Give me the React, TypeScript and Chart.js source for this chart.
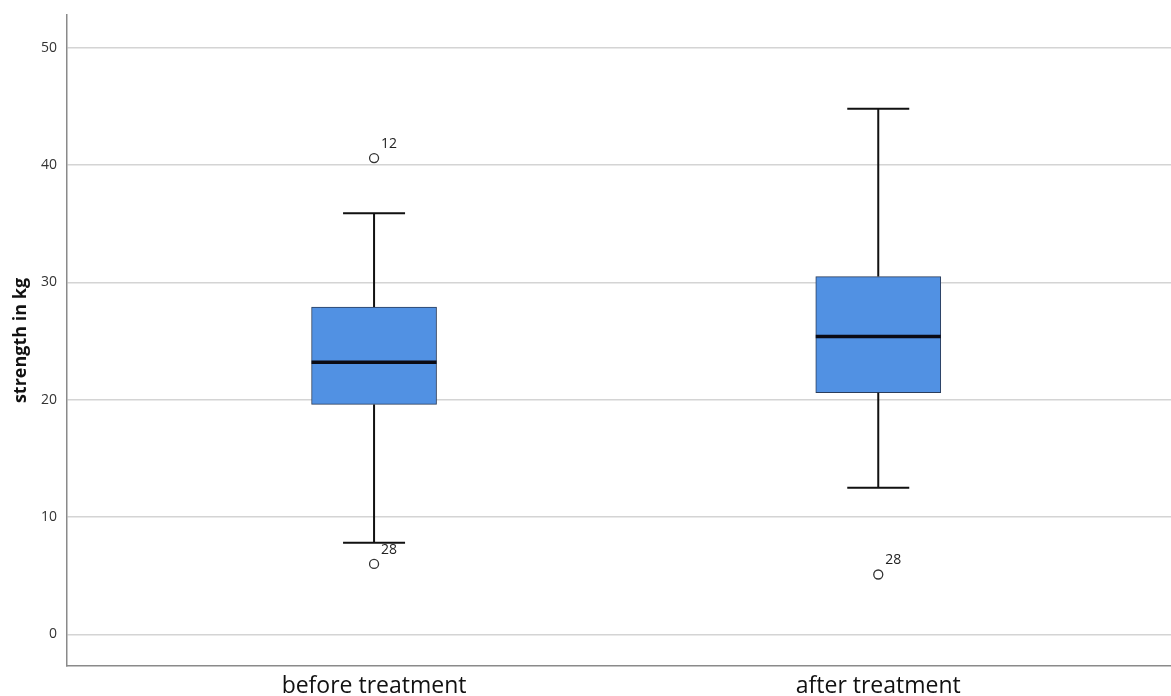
import React, { useEffect, useRef } from "react";
import { Chart, registerables } from "chart.js";

Chart.register(...registerables);

const categories = ["before treatment", "after treatment"];
const categoryPos = [1, 2];
const whiskerMin = [7.8, 12.5];
const q1 = [19.6, 20.6];
const medians = [23.2, 25.4];
const q3 = [27.9, 30.5];
const whiskerMax = [35.9, 44.8];
const outlierCat = [1, 1, 2];
const outlierValues = [40.6, 6.0, 5.1];
const outlierLabels = ["12", "28", "28"];
const yTicks = [0, 10, 20, 30, 40, 50];

export default function App() {
  const ref = useRef<HTMLCanvasElement | null>(null);
  useEffect(() => {
    document.body.style.margin = "0";
    const canvas = ref.current;
    if (!canvas) return;

    const boxPlugin = {
      id: "boxParts",
      afterDatasetsDraw(chart: any) {
        const { ctx, scales } = chart;
        const xs = scales.x;
        const ys = scales.y;
        ctx.save();
        categoryPos.forEach((c, i) => {
          const cx = xs.getPixelForValue(c);
          const halfBox = 62.5;
          const halfCap = 31;
          ctx.strokeStyle = "#111";
          ctx.lineWidth = 2;
          ctx.beginPath();
          ctx.moveTo(cx, ys.getPixelForValue(q3[i]));
          ctx.lineTo(cx, ys.getPixelForValue(whiskerMax[i]));
          ctx.moveTo(cx, ys.getPixelForValue(q1[i]));
          ctx.lineTo(cx, ys.getPixelForValue(whiskerMin[i]));
          ctx.moveTo(cx - halfCap, ys.getPixelForValue(whiskerMax[i]));
          ctx.lineTo(cx + halfCap, ys.getPixelForValue(whiskerMax[i]));
          ctx.moveTo(cx - halfCap, ys.getPixelForValue(whiskerMin[i]));
          ctx.lineTo(cx + halfCap, ys.getPixelForValue(whiskerMin[i]));
          ctx.stroke();
          ctx.lineWidth = 3.5;
          ctx.strokeStyle = "#0b0b14";
          ctx.beginPath();
          ctx.moveTo(cx - halfBox, ys.getPixelForValue(medians[i]));
          ctx.lineTo(cx + halfBox, ys.getPixelForValue(medians[i]));
          ctx.stroke();
        });
        ctx.fillStyle = "#222";
        ctx.font = "14px 'Open Sans', 'DejaVu Sans', sans-serif";
        ctx.textAlign = "left";
        ctx.textBaseline = "middle";
        outlierValues.forEach((v, i) => {
          const px = xs.getPixelForValue(outlierCat[i]);
          const py = ys.getPixelForValue(v);
          ctx.fillText(outlierLabels[i], px + 7, py - 14);
        });
        ctx.restore();
      },
    };

    const chart = new Chart(canvas, {
      type: "bar",
      data: {
        datasets: [
          {
            type: "bar",
            data: categoryPos.map((c, i) => ({ x: c, y: [q1[i], q3[i]] })) as any,
            backgroundColor: "#5191e3",
            borderColor: "#2a3d5c",
            borderWidth: 1,
            borderSkipped: false,
            barThickness: 125,
          } as any,
          {
            type: "scatter",
            data: outlierValues.map((v, i) => ({ x: outlierCat[i], y: v })),
            pointRadius: 4.5,
            pointBackgroundColor: "#ffffff",
            pointBorderColor: "#333",
            pointBorderWidth: 1.3,
          } as any,
        ],
      },
      options: {
        animation: false,
        responsive: false,
        maintainAspectRatio: false,
        layout: { padding: { top: 15, right: 0, left: 0, bottom: 0 } },
        plugins: { legend: { display: false }, tooltip: { enabled: false } },
        scales: {
          x: {
            type: "linear",
            min: 0.391,
            max: 2.581,
            offset: false,
            grid: { display: false, drawTicks: false },
            border: { display: true, color: "#8a8a8a", width: 1.5 },
            afterBuildTicks: (s: any) => {
              s.ticks = categoryPos.map((v) => ({ value: v }));
            },
            afterFit: (s: any) => {
              s.height = 30;
              s.paddingLeft = 0;
              s.paddingRight = 0;
            },
            ticks: {
              autoSkip: false,
              maxRotation: 0,
              padding: 7,
              color: "#111",
              font: { family: "'Open Sans', 'DejaVu Sans', sans-serif", size: 23 },
              callback: (v: any) => {
                const idx = categoryPos.indexOf(Number(v));
                return idx >= 0 ? categories[idx] : "";
              },
            },
          },
          y: {
            type: "linear",
            min: -2.7,
            max: 52.8,
            grid: { color: "#d4d4d4", lineWidth: 1.5, drawTicks: false },
            border: { display: true, color: "#8a8a8a", width: 1.5 },
            afterBuildTicks: (s: any) => {
              s.ticks = yTicks.map((v) => ({ value: v }));
            },
            afterFit: (s: any) => {
              s.width = 67;
              s.paddingTop = 0;
              s.paddingBottom = 0;
            },
            ticks: {
              padding: 10,
              color: "#333",
              font: { family: "'Open Sans', 'DejaVu Sans', sans-serif", size: 14 },
            },
            title: {
              display: true,
              text: "strength in kg",
              color: "#111",
              padding: { top: 10, bottom: 0 },
              font: { family: "'Open Sans', 'DejaVu Sans', sans-serif", size: 18, weight: "bold" },
            },
          },
        },
      },
      plugins: [boxPlugin],
    } as any);
    return () => chart.destroy();
  }, []);

  return (
    <div style={{ position: "fixed", left: 0, top: 0, width: 1171, height: 696, background: "#fff", overflow: "hidden" }}>
      <canvas ref={ref} width={1177} height={696} style={{ width: 1177, height: 696, display: "block" }} />
    </div>
  );
}
